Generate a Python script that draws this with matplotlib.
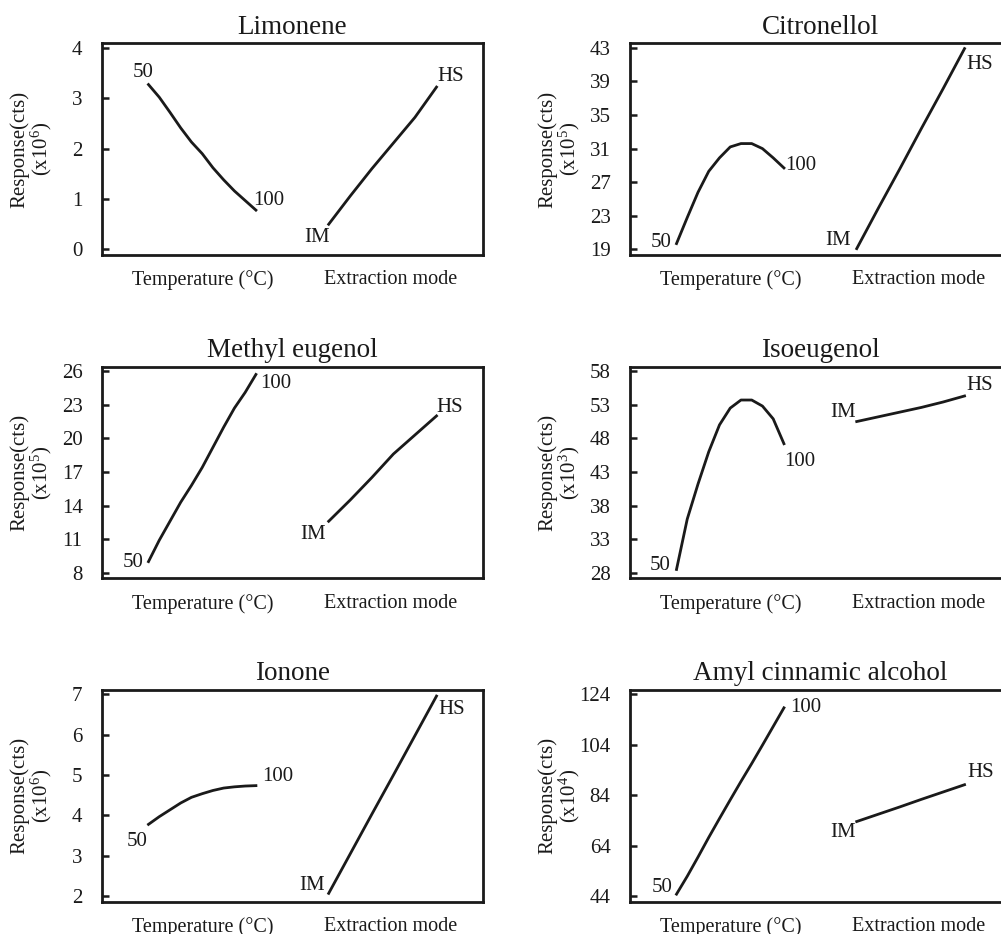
import numpy as np
import matplotlib.pyplot as plt

plt.rcParams['font.family'] = 'Liberation Serif'
plt.rcParams['mathtext.fontset'] = 'custom'
plt.rcParams['mathtext.rm'] = 'Liberation Serif'
plt.rcParams['mathtext.default'] = 'regular'

# valori
compounds = ['Limonene', 'Citronellol', 'Methyl eugenol', 'Isoeugenol', 'Ionone', 'Amyl cinnamic alcohol']
exponents = [6, 5, 5, 3, 6, 4]
tick_ranges = [(0, 4, 1), (19, 43, 4), (8, 26, 3), (28, 58, 5), (2, 7, 1), (44, 124, 20)]

temperatures = [50, 55, 60, 65, 70, 75, 80, 85, 90, 95, 100]
mode_steps = [0.0, 0.2, 0.4, 0.6, 0.8, 1.0]  # da IM a HS

limonene_temp = [3.27, 3.02, 2.72, 2.41, 2.13, 1.90, 1.62, 1.38, 1.16, 0.97, 0.78]
limonene_mode = [0.50, 1.06, 1.60, 2.11, 2.62, 3.22]
citronellol_temp = [19.7, 22.8, 25.8, 28.3, 29.9, 31.2, 31.6, 31.6, 31.0, 29.9, 28.7]
citronellol_mode = [19.1, 23.9, 28.6, 33.4, 38.1, 42.9]
methyleug_temp = [9.0, 10.9, 12.6, 14.3, 15.8, 17.4, 19.2, 21.0, 22.7, 24.1, 25.7]
methyleug_mode = [12.6, 14.5, 16.5, 18.6, 20.3, 22.0]
isoeugenol_temp = [28.5, 36.0, 41.2, 46.0, 50.0, 52.5, 53.7, 53.7, 52.8, 50.9, 47.2]
isoeugenol_mode = [50.5, 51.2, 51.9, 52.6, 53.4, 54.3]
ionone_temp = [3.78, 3.97, 4.14, 4.31, 4.45, 4.54, 4.62, 4.68, 4.71, 4.73, 4.74]
ionone_mode = [2.07, 3.05, 4.03, 5.00, 5.98, 6.96]
amyl_temp = [44.8, 51.9, 59.5, 67.3, 74.8, 82.2, 89.5, 96.6, 103.9, 111.3, 118.7]
amyl_mode = [73.6, 76.5, 79.4, 82.4, 85.3, 88.2]

temp_series = [limonene_temp, citronellol_temp, methyleug_temp, isoeugenol_temp, ionone_temp, amyl_temp]
mode_series = [limonene_mode, citronellol_mode, methyleug_mode, isoeugenol_mode, ionone_mode, amyl_mode]

# spostamenti delle etichette (pixel) rispetto agli estremi: 50, 100, IM, HS
label_offsets = [
    [(-5, 12), (13, 10), (-12, -13), (14, 11)],
    [(-15, 1), (17, 2), (-19, 8), (15, -16)],
    [(-15, -1), (20, -9), (-16, -13), (13, 8)],
    [(-16, 4), (16, -18), (-14, 9), (15, 10)],
    [(-11, -17), (22, 9), (-17, 8), (15, -13)],
    [(-14, 7), (22, 0), (-14, -11), (16, 12)],
]

TEMP_SPAN = (0.122, 0.404)
MODE_SPAN = (0.595, 0.878)

fig = plt.figure(figsize=(10.01, 9.34), dpi=100)
lefts = [0.1019, 0.6294]
bottoms = [0.727, 0.3808, 0.0346]
w, h = 0.3806, 0.2267

for i, name in enumerate(compounds):
    ax = fig.add_axes([lefts[i % 2], bottoms[i // 2], w, h])
    lo, hi, step = tick_ranges[i]
    span = hi - lo
    ax.set_ylim(lo - 5.5 * span / 201, hi + 4.5 * span / 201)
    ax.set_xlim(0, 1)
    ax.set_yticks(np.arange(lo, hi + step / 2, step))

    t = np.array(temperatures)
    xt = TEMP_SPAN[0] + (t - 50) / 50 * (TEMP_SPAN[1] - TEMP_SPAN[0])
    m = np.array(mode_steps)
    xm = MODE_SPAN[0] + m * (MODE_SPAN[1] - MODE_SPAN[0])
    yt = temp_series[i]
    ym = mode_series[i]
    ax.plot(xt, yt, color='#1a1a1a', lw=2)
    ax.plot(xm, ym, color='#1a1a1a', lw=2)

    ends = [(xt[0], yt[0], '50'), (xt[-1], yt[-1], '100'),
            (xm[0], ym[0], 'IM'), (xm[-1], ym[-1], 'HS')]
    for (x, y, lab), (dx, dy) in zip(ends, label_offsets[i]):
        ax.annotate(lab, (x, y), xytext=(dx * 0.72, dy * 0.72), textcoords='offset points',
                    ha='center', va='center', fontsize=15, color='#1a1a1a')

    ax.set_xticks([0.265, 0.758])
    ax.set_xticklabels(['Temperature (°C)', 'Extraction mode'], fontsize=14.5)
    ax.tick_params(axis='x', length=0, pad=11, colors='#1a1a1a')
    ax.tick_params(axis='y', direction='in', length=5, width=1.8, pad=14,
                   labelsize=15, colors='#1a1a1a')
    for s in ax.spines.values():
        s.set_linewidth(2)
        s.set_color('#1a1a1a')

    ax.set_ylabel('Response(cts)\n(x10$^{%d}$)' % exponents[i], fontsize=15,
                  color='#1a1a1a', linespacing=1.0)
    ax.yaxis.set_label_coords(-0.125, 0.5)
    ax.set_title(name, fontsize=19.5, pad=7, color='#1a1a1a')

fig.savefig('out.png', dpi=100)
